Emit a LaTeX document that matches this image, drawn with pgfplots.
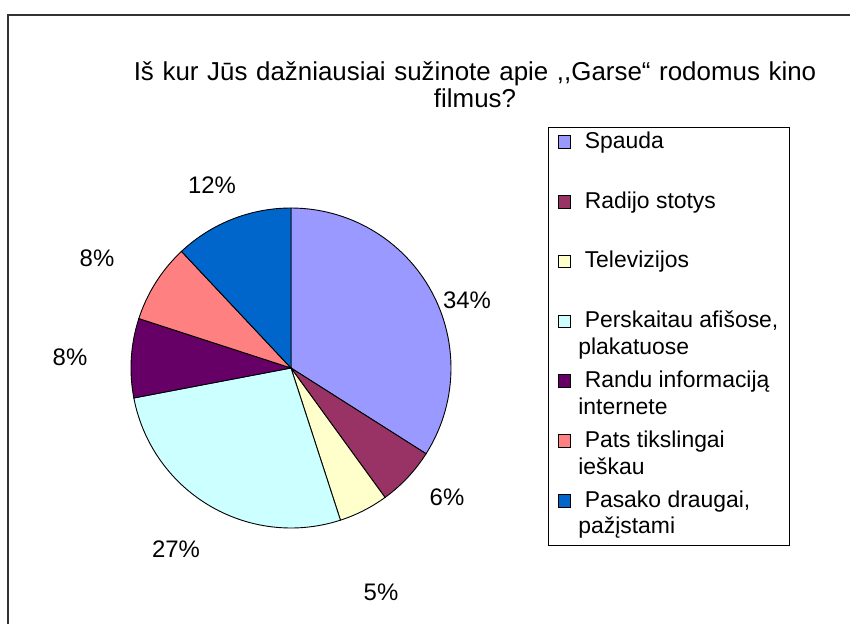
\documentclass[border=0pt]{standalone}
\usepackage{pgfplots}
\pgfplotsset{compat=1.18}
\usepackage{fontspec}
\setmainfont{Liberation Sans}

\definecolor{cSpauda}{HTML}{9999FF}
\definecolor{cRadijo}{HTML}{993366}
\definecolor{cTele}{HTML}{FFFFCC}
\definecolor{cAfisos}{HTML}{CCFFFF}
\definecolor{cInternet}{HTML}{660066}
\definecolor{cPats}{HTML}{FF8080}
\definecolor{cDraugai}{HTML}{0066CC}

% pie: centre (291,368) in pixel units, radius 160, slices start at 12 o'clock, clockwise
% shares: 34, 6, 5, 27, 8, 8, 12 (%)
\newcommand{\slice}[3]{%
  \addplot[fill=#1, draw=black, line width=0.9bp, domain=#2:#3, samples=60, variable=\t]
    ({291+160*sin(3.6*\t)},{368-160*cos(3.6*\t)}) -- (axis cs:291,368) -- cycle;}
% two-line legend entry; its baseline is the bottom of the box, the marker is raised to line one
\newcommand{\entry}[2]{%
  \parbox[b]{210bp}{\raggedright\fontsize{23}{27}\selectfont
    \hspace*{.28em}#1\strut\par #2\strut\par\kern0pt}}

\begin{document}
\begin{tikzpicture}
\begin{axis}[
    at={(0,0)}, anchor=south west,
    width=850bp, height=624bp, scale only axis,
    xmin=0, xmax=850, ymin=0, ymax=624,
    y dir=reverse,
    hide axis,
    legend cell align=left,
    legend image code/.code={%
      \path (0bp,0bp);
      \draw[#1] (8bp,35bp) rectangle (20.5bp,47.5bp);},
    legend style={
      at={(axis cs:548,127)}, anchor=north west,
      draw=black, line width=0.9bp, fill=white,
      inner xsep=1.5bp, inner ysep=2bp,
      row sep=4.5bp, column sep=7bp,
      cells={anchor=base west},
      nodes={inner sep=0pt},
    },
]
\draw[black!80, line width=1.2bp] (axis cs:8,700) -- (axis cs:8,15) -- (axis cs:900,15);

\slice{cSpauda}{0}{34}
\addlegendentry{\entry{Spauda}{}}
\slice{cRadijo}{34}{40}
\addlegendentry{\entry{Radijo stotys}{}}
\slice{cTele}{40}{45}
\addlegendentry{\entry{Televizijos}{}}
\slice{cAfisos}{45}{72}
\addlegendentry{\entry{Perskaitau afišose,}{plakatuose}}
\slice{cInternet}{72}{80}
\addlegendentry{\entry{Randu informaciją}{internete}}
\slice{cPats}{80}{88}
\addlegendentry{\entry{Pats tikslingai}{ieškau}}
\slice{cDraugai}{88}{100}
\addlegendentry{\entry{Pasako draugai,}{pažįstami}}

\node[anchor=base, text width=760bp, align=center, font=\fontsize{26}{27}\selectfont]
  at (axis cs:475,81) {Iš kur Jūs dažniausiai sužinote apie {,}{,}Garse“ rodomus kino\\filmus?};

\begin{scope}[every node/.style={font=\fontsize{24}{26}\selectfont}]
\node at (axis cs:467,300) {34\%};
\node at (axis cs:447,497) {6\%};
\node at (axis cs:381,592) {5\%};
\node at (axis cs:176,549) {27\%};
\node at (axis cs:70,357) {8\%};
\node at (axis cs:97,258) {8\%};
\node at (axis cs:212,185) {12\%};
\end{scope}
\end{axis}
\pgfresetboundingbox
\useasboundingbox (0,0) rectangle (850bp,624bp);
\end{tikzpicture}
\end{document}
